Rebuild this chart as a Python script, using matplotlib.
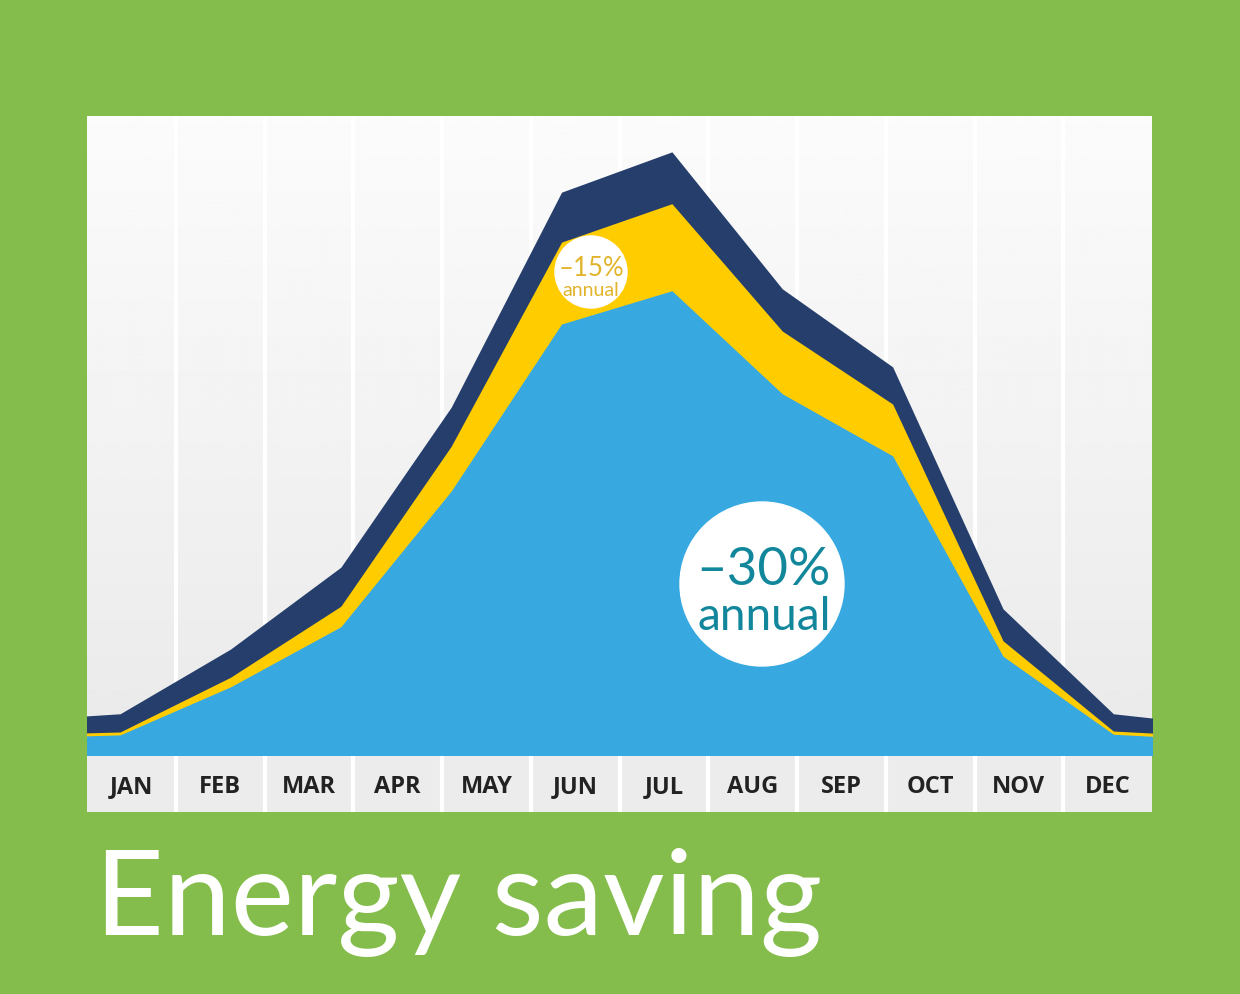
import numpy as np
import matplotlib.pyplot as plt
from matplotlib.patches import Circle, Rectangle

# data (relative consumption, 0-100 scale)
months = ['JAN', 'FEB', 'MAR', 'APR', 'MAY', 'JUN', 'JUL', 'AUG', 'SEP', 'OCT', 'NOV', 'DEC']
baseline = [5.5, 6.6, 16.7, 29.5, 54.5, 88.1, 94.4, 73.0, 60.8, 23.0, 6.6, 4.7]
saving_15 = [3.3, 3.75, 12.3, 23.4, 48.4, 80.3, 86.3, 66.4, 55.0, 18.0, 3.9, 3.0]
saving_30 = [2.8, 3.3, 10.8, 20.2, 41.4, 67.5, 72.7, 56.6, 46.9, 15.6, 3.4, 2.5]

green = '#84BD4B'
navy = '#253E6B'
yellow = '#FFCC00'
blue = '#38A9E0'

W, H = 1240, 995
fig = plt.figure(figsize=(W / 100, H / 100), dpi=100, facecolor=green)

# plot area in pixels
left, right, top, bottom = 87, 1152, 117, 757
ax = fig.add_axes([left / W, 1 - bottom / H, (right - left) / W, (bottom - top) / H])
x = np.arange(len(months))
ax.set_xlim(0.70, 10.35)
ax.set_ylim(0, 100)
ax.axis('off')

# gradient background
grad = np.linspace(0.985, 0.915, 256).reshape(-1, 1)
ax.imshow(grad, cmap='gray', vmin=0, vmax=1, aspect='auto',
          extent=[0, 1, 0, 1], transform=ax.transAxes, zorder=0)
for k in range(1, 12):
    ax.plot([k / 12, k / 12], [0, 1], transform=ax.transAxes, color='white', lw=3, zorder=1)

ax.fill_between(x, 0, baseline, color=navy, lw=0, zorder=2)
ax.fill_between(x, 0, saving_15, color=yellow, lw=0, zorder=3)
ax.fill_between(x, 0, saving_30, color=blue, lw=0, zorder=4)

# month label row
lax = fig.add_axes([left / W, 1 - 813 / H, (right - left) / W, 56 / H])
lax.set_xlim(0, 12)
lax.set_ylim(0, 1)
lax.axis('off')
lax.add_patch(Rectangle((0, 0), 12, 1, color='#ECECEC', lw=0))
for k in range(1, 12):
    lax.plot([k, k], [0, 1], color='white', lw=3)
for k, m in enumerate(months):
    lax.text(k + 0.5, 0.47, m, ha='center', va='center', fontsize=17,
             fontweight='bold', family='Open Sans', color='#222222')

# overlay in pixel coordinates for badges and title
ov = fig.add_axes([0, 0, 1, 1], facecolor='none')
ov.set_xlim(0, W)
ov.set_ylim(H, 0)
ov.axis('off')

ov.add_patch(Circle((591, 273), 36, color='white'))
ov.add_patch(Circle((762, 585), 82, color='white'))
ov.text(591, 276, '–15%', ha='center', va='baseline', color='#E2B42A',
        fontsize=18.5, family='Lato')
ov.text(591, 296, 'annual', ha='center', va='baseline', color='#E2B42A',
        fontsize=14, family='Lato')
ov.text(763, 585, '–30%', ha='center', va='baseline', color='#12879B',
        fontsize=38, family='Lato')
ov.text(764, 630, 'annual', ha='center', va='baseline', color='#12879B',
        fontsize=33, family='Lato')

ov.text(95, 935, 'Energy saving', ha='left', va='baseline', color='white',
        fontsize=86, family='Lato')

fig.savefig('out.png', dpi=100, facecolor=green)
